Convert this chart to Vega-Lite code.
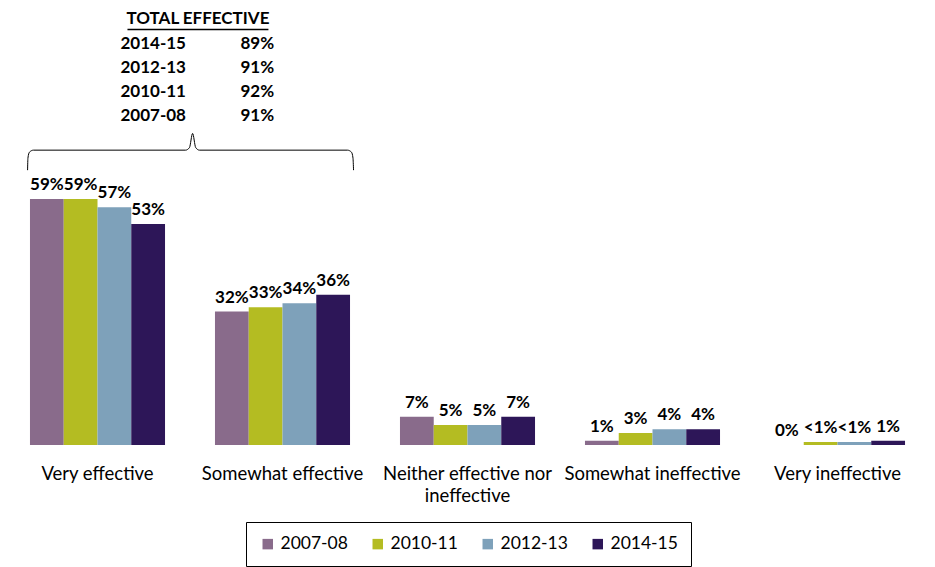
{
  "$schema": "https://vega.github.io/schema/vega-lite/v6.json",
  "width": 925,
  "height": 445,
  "padding": {"left": 5, "top": 0, "right": 5, "bottom": 0},
  "background": "white",
  "config": {"view": {"stroke": null}, "font": "Lato"},
  "datasets": {
    "bars": [
      {"category": "Very effective", "series": "2007-08", "value": 59, "label": "59%"},
      {"category": "Very effective", "series": "2010-11", "value": 59, "label": "59%"},
      {"category": "Very effective", "series": "2012-13", "value": 57, "label": "57%"},
      {"category": "Very effective", "series": "2014-15", "value": 53, "label": "53%"},
      {"category": "Somewhat effective", "series": "2007-08", "value": 32, "label": "32%"},
      {"category": "Somewhat effective", "series": "2010-11", "value": 33, "label": "33%"},
      {"category": "Somewhat effective", "series": "2012-13", "value": 34, "label": "34%"},
      {"category": "Somewhat effective", "series": "2014-15", "value": 36, "label": "36%"},
      {"category": "Neither effective nor ineffective", "series": "2007-08", "value": 6.8, "label": "7%"},
      {"category": "Neither effective nor ineffective", "series": "2010-11", "value": 4.8, "label": "5%"},
      {"category": "Neither effective nor ineffective", "series": "2012-13", "value": 4.8, "label": "5%"},
      {"category": "Neither effective nor ineffective", "series": "2014-15", "value": 6.8, "label": "7%"},
      {"category": "Somewhat ineffective", "series": "2007-08", "value": 1, "label": "1%"},
      {"category": "Somewhat ineffective", "series": "2010-11", "value": 2.9, "label": "3%"},
      {"category": "Somewhat ineffective", "series": "2012-13", "value": 3.8, "label": "4%"},
      {"category": "Somewhat ineffective", "series": "2014-15", "value": 3.8, "label": "4%"},
      {"category": "Very ineffective", "series": "2007-08", "value": 0, "label": "0%"},
      {"category": "Very ineffective", "series": "2010-11", "value": 0.7, "label": "<1%"},
      {"category": "Very ineffective", "series": "2012-13", "value": 0.7, "label": "<1%"},
      {"category": "Very ineffective", "series": "2014-15", "value": 1, "label": "1%"}
    ],
    "title": [
      {"pos": 1.043, "y": 102.2, "text": "TOTAL EFFECTIVE"}
    ],
    "years": [
      {"pos": 0.624, "y": 96.2, "text": "2014-15"},
      {"pos": 0.624, "y": 90.4, "text": "2012-13"},
      {"pos": 0.624, "y": 84.7, "text": "2010-11"},
      {"pos": 0.624, "y": 78.9, "text": "2007-08"},
      {"pos": 1.273, "y": 96.2, "text": "89%"},
      {"pos": 1.273, "y": 90.4, "text": "91%"},
      {"pos": 1.273, "y": 84.7, "text": "92%"},
      {"pos": 1.273, "y": 78.9, "text": "91%"}
    ],
    "underline": [
      {"x1": 0.662, "x2": 1.424, "y": 99.6}
    ],
    "brace": [
      {"i": 1, "pos": 0.122, "y": 65.9},
      {"i": 2, "pos": 0.124, "y": 68.8},
      {"i": 3, "pos": 0.132, "y": 70.2},
      {"i": 4, "pos": 0.154, "y": 70.7},
      {"i": 5, "pos": 0.976, "y": 70.7},
      {"i": 6, "pos": 0.997, "y": 71.3},
      {"i": 7, "pos": 1.014, "y": 74.7},
      {"i": 8, "pos": 1.031, "y": 71.3},
      {"i": 9, "pos": 1.051, "y": 70.7},
      {"i": 10, "pos": 1.851, "y": 70.7},
      {"i": 11, "pos": 1.873, "y": 70.2},
      {"i": 12, "pos": 1.881, "y": 68.8},
      {"i": 13, "pos": 1.884, "y": 65.9}
    ]
  },
  "layer": [
    {
      "data": {"name": "bars"},
      "mark": {"type": "bar"},
      "encoding": {
        "x": {
          "field": "category", "type": "nominal", "sort": null,
          "scale": {"paddingInner": 0.27, "paddingOuter": 0.135},
          "axis": {
            "title": null, "domain": false, "ticks": false, "labelAngle": 0,
            "labelFontSize": 18.5, "labelPadding": 19, "labelColor": "#000",
            "labelLimit": 300, "labelLineHeight": 22,
            "labelExpr": "datum.value == 'Neither effective nor ineffective' ? ['Neither effective nor', 'ineffective'] : datum.value"
          }
        },
        "xOffset": {"field": "series", "type": "nominal", "scale": {"paddingInner": 0, "paddingOuter": 0}},
        "y": {"field": "value", "type": "quantitative", "scale": {"domain": [0, 106.7], "nice": false}, "axis": null},
        "color": {
          "field": "series", "type": "nominal",
          "scale": {"domain": ["2007-08", "2010-11", "2012-13", "2014-15"], "range": ["#896B8B", "#B4BC22", "#7EA1BA", "#2D1658"]},
          "legend": {
            "title": null, "orient": "none", "legendX": 241, "legendY": 522,
            "direction": "horizontal", "columns": 4, "padding": 13,
            "strokeColor": "#000", "labelFontSize": 17.5, "labelColor": "#000",
            "symbolType": "square", "symbolSize": 110, "symbolStrokeWidth": 0,
            "columnPadding": 21, "labelOffset": 4
          }
        }
      }
    },
    {
      "data": {"name": "bars"},
      "mark": {"type": "text", "baseline": "bottom", "dy": -5, "fontWeight": "bold", "fontSize": 17, "color": "#000"},
      "encoding": {
        "x": {"field": "category", "type": "nominal", "sort": null, "scale": {"paddingInner": 0.27, "paddingOuter": 0.135}, "axis": null},
        "xOffset": {"field": "series", "type": "nominal", "scale": {"paddingInner": 0, "paddingOuter": 0}},
        "y": {"field": "value", "type": "quantitative", "scale": {"domain": [0, 106.7], "nice": false}, "axis": null},
        "text": {"field": "label"}
      }
    },
    {
      "data": {"name": "title"},
      "mark": {"type": "text", "align": "center", "baseline": "middle", "fontWeight": "bold", "fontSize": 17, "color": "#000"},
      "encoding": {
        "x": {"field": "pos", "type": "quantitative", "scale": {"domain": [0, 5], "nice": false, "zero": false}, "axis": null},
        "y": {"field": "y", "type": "quantitative", "scale": {"domain": [0, 106.7], "nice": false}, "axis": null},
        "text": {"field": "text"}
      }
    },
    {
      "data": {"name": "years"},
      "mark": {"type": "text", "align": "left", "baseline": "middle", "fontWeight": "bold", "fontSize": 17, "color": "#000"},
      "encoding": {
        "x": {"field": "pos", "type": "quantitative", "scale": {"domain": [0, 5], "nice": false, "zero": false}, "axis": null},
        "y": {"field": "y", "type": "quantitative", "scale": {"domain": [0, 106.7], "nice": false}, "axis": null},
        "text": {"field": "text"}
      }
    },
    {
      "data": {"name": "underline"},
      "mark": {"type": "rule", "color": "#000", "strokeWidth": 1.5},
      "encoding": {
        "x": {"field": "x1", "type": "quantitative", "scale": {"domain": [0, 5], "nice": false, "zero": false}, "axis": null},
        "x2": {"field": "x2"},
        "y": {"field": "y", "type": "quantitative", "scale": {"domain": [0, 106.7], "nice": false}, "axis": null}
      }
    },
    {
      "data": {"name": "brace"},
      "mark": {"type": "line", "color": "#000", "strokeWidth": 1, "interpolate": "monotone"},
      "encoding": {
        "x": {"field": "pos", "type": "quantitative", "scale": {"domain": [0, 5], "nice": false, "zero": false}, "axis": null},
        "y": {"field": "y", "type": "quantitative", "scale": {"domain": [0, 106.7], "nice": false}, "axis": null},
        "order": {"field": "i", "type": "quantitative"}
      }
    }
  ],
  "resolve": {"scale": {"x": "independent"}}
}
